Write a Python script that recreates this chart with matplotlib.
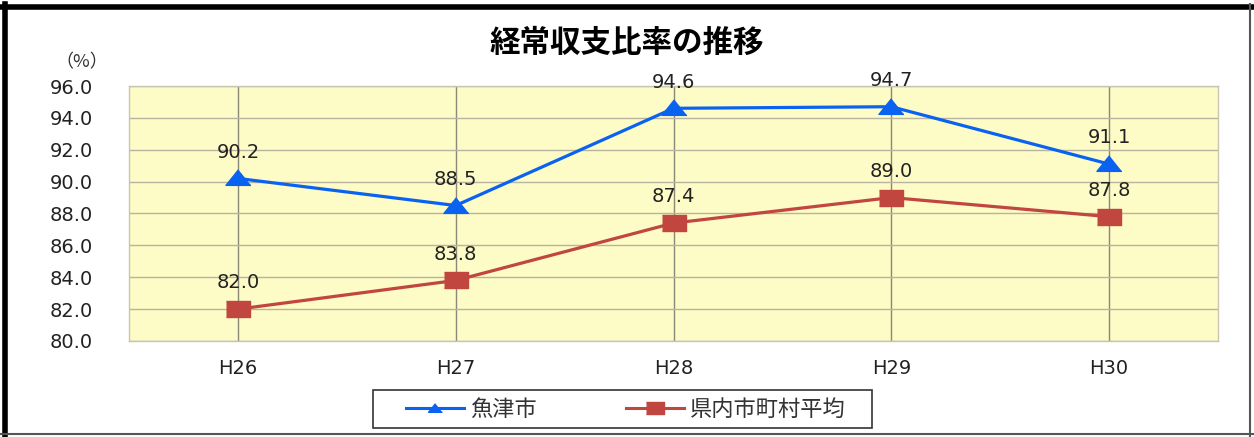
import matplotlib.pyplot as plt
from matplotlib.lines import Line2D
from matplotlib.patches import Rectangle

plt.rcParams['font.family'] = ['DejaVu Sans', 'Noto Sans CJK JP']

# data
years = ['H26', 'H27', 'H28', 'H29', 'H30']
uozu = [90.2, 88.5, 94.6, 94.7, 91.1]
pref_avg = [82.0, 83.8, 87.4, 89.0, 87.8]
series_names = ['魚津市', '県内市町村平均']
y_ticks = [80.0, 82.0, 84.0, 86.0, 88.0, 90.0, 92.0, 94.0, 96.0]

BLUE = '#0a62f0'
RED = '#c0463f'
# the original markers are a bit flattened
TRI = [(0, 0.7), (-1, -0.55), (1, -0.55)]
SQR = [(-1, -0.65), (1, -0.65), (1, 0.65), (-1, 0.65)]

fig = plt.figure(figsize=(12.54, 4.37), dpi=100)
ax = fig.add_axes([0.1029, 0.2197, 0.8684, 0.5835])
ax.set_facecolor('#fdfbc6')

x = list(range(len(years)))
ax.plot(x, uozu, color=BLUE, lw=2.3, marker=TRI, ms=18, zorder=4)
ax.plot(x, pref_avg, color=RED, lw=2.3, marker=SQR, ms=17, zorder=4)

for series in (uozu, pref_avg):
    for xi, v in zip(x, series):
        ax.annotate(f'{v:.1f}', (xi, v), xytext=(0, 12), textcoords='offset points',
                    ha='center', va='bottom', fontsize=14, color='#222222')

ax.set_xlim(-0.5, 4.5)
ax.set_ylim(80, 96)
ax.set_yticks(y_ticks)
ax.set_yticklabels([f'{t:.1f}' for t in y_ticks], fontsize=14, color='#222222')
ax.set_xticks(x)
ax.set_xticklabels(years, fontsize=14, color='#222222')
ax.tick_params(length=0)
ax.tick_params(axis='x', pad=13)
ax.tick_params(axis='y', pad=26)
ax.grid(axis='y', color='#b8b4a0', lw=1)
ax.grid(axis='x', color='#8a8878', lw=1)
ax.set_axisbelow(True)
for s in ax.spines.values():
    s.set_color('#c8c6b0')
    s.set_linewidth(1)

fig.text(0.5, 0.902, '経常収支比率の推移', ha='center', va='center', fontsize=22,
         fontweight='bold', family=['Noto Sans CJK JP'])
fig.text(0.065, 0.857, '（%）', ha='center', va='center', fontsize=13, color='#333333',
         family=['Noto Sans CJK JP'])

# legend: frame drawn separately, entries spread over the box width
fig.add_artist(Rectangle((373 / 1254, 1 - 428 / 437), 499 / 1254, 38 / 437,
                         transform=fig.transFigure, fill=False, edgecolor='#333333', lw=1.2))
handles = [Line2D([], [], color=BLUE, lw=2.2, marker=TRI, ms=10),
           Line2D([], [], color=RED, lw=2.2, marker=SQR, ms=13)]
leg = fig.legend(handles, series_names, loc='center', mode='expand', ncol=2,
                 bbox_to_anchor=(406 / 1254, 1 - 428 / 437, 440 / 1254, 38 / 437),
                 prop={'family': ['Noto Sans CJK JP'], 'size': 16},
                 frameon=False, handlelength=2.6, handletextpad=0.3,
                 borderpad=0, borderaxespad=0)
for t in leg.get_texts():
    t.set_color('#333333')

# outer frame of the chart
fig.add_artist(Line2D([0.004, 0.004], [0.0, 0.99], transform=fig.transFigure, color='black', lw=4))
fig.add_artist(Line2D([0.0, 1.0], [0.985, 0.985], transform=fig.transFigure, color='black', lw=4))
fig.add_artist(Line2D([0.997, 0.997], [0.0, 0.99], transform=fig.transFigure, color='#555555', lw=1.5))
fig.add_artist(Line2D([0.0, 1.0], [0.006, 0.006], transform=fig.transFigure, color='#555555', lw=1.5))

fig.savefig('out.png', dpi=100)
